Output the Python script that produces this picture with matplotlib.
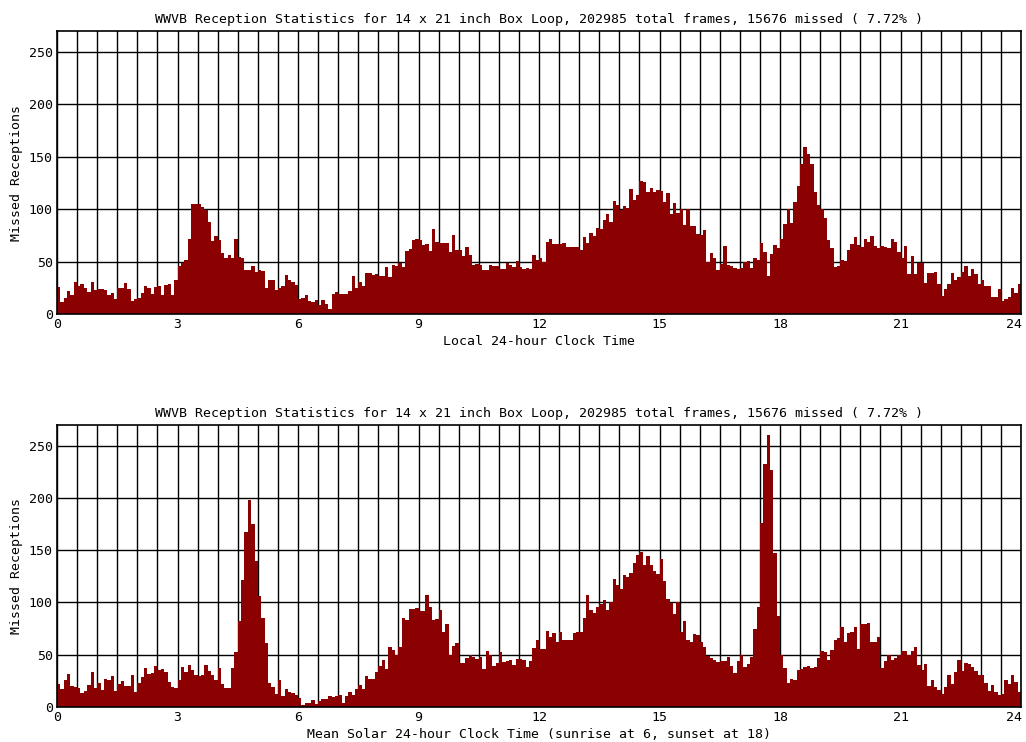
#!/usr/bin/env python3

import numpy as np
import matplotlib
matplotlib.use('Agg')
import matplotlib.pyplot as plt
import matplotlib.transforms as mtrans
from matplotlib.ticker import MultipleLocator

bar_color = '#8b0000'
font_name = 'DejaVu Sans Mono'

title = ('WWVB Reception Statistics for 14 x 21 inch Box Loop, '
         '202985 total frames, 15676 missed ( 7.72% )')
ylabel = 'Missed Receptions'
xlabel_local = 'Local 24-hour Clock Time'
xlabel_solar = 'Mean Solar 24-hour Clock Time (sunrise at 6, sunset at 18)'

hour_ticks = [0, 3, 6, 9, 12, 15, 18, 21, 24]
count_ticks = [0, 50, 100, 150, 200, 250]

# missed receptions per 5 minute bin, local clock time
local_missed = [
    26, 11, 15, 22, 18, 31, 27, 29, 25, 21,
    31, 23, 24, 24, 23, 18, 20, 14, 25, 25,
    30, 24, 12, 14, 15, 20, 27, 25, 19, 26,
    27, 18, 28, 29, 18, 32, 46, 49, 52, 72,
    105, 105, 105, 102, 99, 88, 70, 74, 71, 58,
    53, 56, 53, 72, 54, 53, 42, 42, 46, 40,
    42, 41, 25, 32, 32, 23, 25, 27, 37, 32,
    31, 28, 14, 15, 18, 12, 11, 13, 9, 13,
    10, 5, 19, 21, 19, 19, 19, 22, 36, 25,
    31, 27, 39, 39, 37, 38, 36, 36, 45, 35,
    47, 46, 49, 45, 60, 62, 71, 72, 71, 66,
    67, 60, 81, 69, 68, 68, 68, 59, 75, 61,
    61, 55, 64, 56, 47, 48, 47, 42, 42, 47,
    46, 46, 43, 43, 49, 47, 45, 51, 45, 43,
    44, 43, 56, 52, 53, 50, 69, 72, 67, 67,
    67, 68, 64, 64, 64, 64, 61, 73, 68, 77,
    74, 82, 81, 90, 95, 88, 108, 104, 99, 103,
    101, 119, 109, 114, 127, 126, 116, 120, 116, 118,
    117, 107, 115, 95, 106, 96, 100, 85, 100, 84,
    84, 76, 75, 80, 50, 58, 53, 42, 48, 65,
    47, 46, 44, 43, 44, 50, 51, 44, 53, 52,
    68, 59, 36, 57, 66, 63, 72, 86, 100, 87,
    107, 122, 143, 159, 153, 143, 116, 104, 100, 92,
    71, 63, 45, 46, 52, 51, 61, 67, 73, 66,
    64, 72, 69, 74, 65, 63, 65, 64, 63, 72,
    69, 59, 53, 65, 38, 55, 38, 49, 49, 30,
    39, 39, 40, 29, 17, 24, 29, 39, 32, 35,
    40, 46, 36, 43, 38, 29, 32, 27, 27, 16,
    16, 24, 12, 14, 16, 25, 20, 29,
]

# missed receptions per 5 minute bin, mean solar time
solar_missed = [
    22, 17, 26, 31, 20, 19, 18, 13, 15, 21,
    33, 18, 23, 16, 27, 26, 29, 15, 22, 25,
    20, 20, 30, 14, 23, 28, 37, 31, 32, 39,
    35, 36, 33, 24, 19, 18, 26, 38, 33, 40,
    35, 30, 29, 30, 40, 34, 30, 26, 37, 22,
    18, 18, 37, 52, 82, 121, 167, 198, 175, 140,
    106, 85, 61, 23, 19, 12, 26, 10, 17, 14,
    13, 11, 8, 2, 4, 4, 6, 3, 5, 7,
    7, 10, 9, 10, 11, 4, 10, 14, 11, 17,
    21, 17, 29, 27, 27, 33, 39, 45, 36, 57,
    54, 50, 57, 85, 83, 94, 94, 95, 92, 92,
    107, 96, 83, 84, 93, 72, 79, 50, 58, 61,
    42, 42, 47, 50, 48, 46, 48, 36, 53, 50,
    39, 42, 52, 43, 44, 45, 40, 46, 46, 45,
    38, 44, 56, 64, 55, 55, 73, 67, 71, 62,
    72, 64, 64, 64, 71, 72, 72, 85, 107, 93,
    90, 96, 98, 102, 93, 100, 122, 117, 113, 126,
    124, 128, 138, 145, 148, 136, 144, 136, 130, 127,
    142, 120, 103, 99, 89, 100, 72, 82, 64, 62,
    70, 69, 62, 57, 49, 47, 45, 43, 44, 44,
    48, 39, 32, 44, 50, 38, 41, 48, 74, 96,
    176, 233, 260, 227, 147, 87, 50, 37, 23, 27,
    26, 35, 36, 38, 39, 37, 38, 47, 53, 52,
    45, 54, 64, 66, 76, 62, 71, 72, 76, 55,
    79, 79, 80, 62, 62, 67, 37, 44, 50, 45,
    47, 50, 53, 53, 50, 53, 57, 40, 35, 41,
    20, 26, 19, 16, 12, 19, 30, 22, 33, 45,
    34, 42, 41, 38, 34, 30, 30, 23, 15, 21,
    14, 11, 12, 26, 22, 30, 24, 14,
]

bin_width = 24.0 / len(local_missed)
bin_start = np.arange(len(local_missed)) * bin_width

plt.rcParams['font.family'] = [font_name, 'DejaVu Sans']
plt.rcParams['font.size'] = 9.5

fig = plt.figure(figsize=(10.26, 7.42), dpi=100)
ax1 = fig.add_axes([0.0556, 0.5768, 0.9396, 0.3814])
ax2 = fig.add_axes([0.0556, 0.0476, 0.9396, 0.3796])


def draw_panel(ax, values, xlabel):
    ax.set_axisbelow(True)
    ax.bar(bin_start, values, width=bin_width, align='edge',
           color=bar_color, linewidth=0)
    ax.set_xlim(0, 24)
    ax.set_ylim(0, 270)
    ax.set_xticks(hour_ticks)
    ax.set_yticks(count_ticks)
    ax.xaxis.set_minor_locator(MultipleLocator(0.5))
    ax.grid(which='both', axis='x', color='black', linewidth=1.0)
    ax.grid(which='major', axis='y', color='black', linewidth=1.0)
    ax.tick_params(which='both', length=0, pad=3, labelsize=9.5)
    for s in ax.spines.values():
        s.set_color('black')
        s.set_linewidth(1.2)
    ax.set_title(title, fontsize=9.5, pad=6)
    ax.set_ylabel(ylabel, labelpad=4)
    ax.set_xlabel(xlabel, labelpad=3)

    # keep the "24" label inside the figure, like the original
    fig.canvas.draw()
    last = ax.get_xticklabels()[-1]
    last.set_transform(last.get_transform() +
                       mtrans.ScaledTranslation(-5 / 72, 0, fig.dpi_scale_trans))


draw_panel(ax1, local_missed, xlabel_local)
draw_panel(ax2, solar_missed, xlabel_solar)

plt.savefig('out.png', dpi=100)
